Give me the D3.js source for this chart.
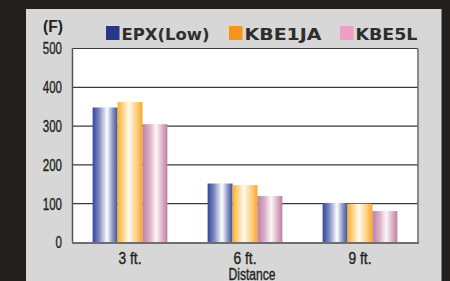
<!DOCTYPE html>
<html><head><meta charset="utf-8">
<script src="https://cdn.jsdelivr.net/npm/d3@7"></script>
<style>
html,body{margin:0;padding:0;background:#231f1c;}
svg{display:block;}
</style></head><body>
<svg id="c" width="450" height="281"></svg>
<script>
const categories = ["3 ft.", "6 ft.", "9 ft."];
const seriesNames = ["EPX(Low)", "KBE1JA", "KBE5L"];
const epx = [348, 152, 102];
const kbe1ja = [362, 148, 100];
const kbe5l = [305, 120, 81];
const yTicks = [0, 100, 200, 300, 400, 500];
const axisTitle = "(F)";
const xTitle = "Distance";

const seriesValues = [epx, kbe1ja, kbe5l];
const svg = d3.select("#c");
const W = 450, H = 281;
const M = {left: 72.5, right: 417.5, top: 48.5, bottom: 242.5};

svg.append("rect").attr("x",0).attr("y",0).attr("width",W).attr("height",H).attr("fill","#231f1c");
svg.append("rect").attr("x",26).attr("y",9).attr("width",415.5).attr("height",H-9).attr("fill","#d6d7d6");

const defs = svg.append("defs");
const grads = [
  {id:"gEpx", stops:[[0,"#34479a"],[0.25,"#7a86bd"],[0.58,"#ffffff"],[0.8,"#8e97c6"],[1,"#3f5099"]]},
  {id:"gKbe1", stops:[[0,"#fbb22a"],[0.2,"#fdd17e"],[0.45,"#fffaf0"],[0.75,"#fdd288"],[1,"#f7a823"]]},
  {id:"gKbe5", stops:[[0,"#c07ea2"],[0.3,"#dcb3c8"],[0.55,"#fdf6f9"],[0.8,"#dbb0c6"],[1,"#c07ea2"]]}
];
grads.forEach(g=>{
  const lg = defs.append("linearGradient").attr("id",g.id).attr("x1","0").attr("x2","1").attr("y1","0").attr("y2","0");
  g.stops.forEach(s=>lg.append("stop").attr("offset",s[0]).attr("stop-color",s[1]));
});
const legendColors = ["#26388a","#f7941d","#f19cc5"];

const x = d3.scaleBand().domain(categories).range([M.left, M.right]).paddingInner(0.35).paddingOuter(0.175);
const xs = d3.scaleBand().domain(d3.range(seriesNames.length)).range([0, x.bandwidth()]);
const y = d3.scaleLinear().domain([0, 500]).range([M.bottom, M.top]);

svg.append("rect").attr("x",M.left).attr("y",M.top).attr("width",M.right-M.left).attr("height",M.bottom-M.top).attr("fill","#ffffff");
svg.append("line").attr("x1",M.right+0.5).attr("x2",M.right+0.5).attr("y1",M.top).attr("y2",M.bottom+1).attr("stroke","#8a8a8a").attr("stroke-width",2);

svg.append("g").selectAll("line").data(yTicks.filter(d=>d>0 && d<500)).join("line")
  .attr("x1",M.left).attr("x2",M.right).attr("y1",d=>y(d)).attr("y2",d=>y(d))
  .attr("stroke","#3a3a3a").attr("stroke-width",1.2);

const grp = svg.append("g").selectAll("g").data(categories).join("g")
  .attr("transform",d=>`translate(${x(d)},0)`);
grp.selectAll("rect").data((c,i)=>seriesValues.map((s,j)=>({j, v:s[i]}))).join("rect")
  .attr("x",d=>xs(d.j)).attr("width",xs.bandwidth())
  .attr("y",d=>y(d.v)).attr("height",d=>y(0)-y(d.v))
  .attr("fill",d=>`url(#${grads[d.j].id})`);

svg.append("line").attr("x1",M.left).attr("x2",M.right).attr("y1",M.top).attr("y2",M.top).attr("stroke","#3a3a3a").attr("stroke-width",1);
svg.append("line").attr("x1",M.left).attr("x2",M.left).attr("y1",M.top).attr("y2",M.bottom).attr("stroke","#555").attr("stroke-width",1.5);
svg.append("line").attr("x1",M.left-0.5).attr("x2",M.right+1.5).attr("y1",M.bottom+0.5).attr("y2",M.bottom+0.5).attr("stroke","#6e6e6e").attr("stroke-width",2);

const condensed = "'Liberation Sans','Arimo',sans-serif";

const yAxis = d3.axisLeft(y).tickValues(yTicks).tickSize(0).tickPadding(10.5);
const ya = svg.append("g").attr("transform",`translate(${M.left},0)`).call(yAxis);
ya.select(".domain").remove();
ya.selectAll("text").attr("font-family",condensed).attr("font-size",16).attr("fill","#231f1c")
  .attr("stroke","#231f1c").attr("stroke-width",0.35)
  .attr("dy","0.34em")
  .attr("textLength",d=>String(d).length*6.4).attr("lengthAdjust","spacingAndGlyphs");

const xAxis = d3.axisBottom(x).tickSize(0).tickPadding(0);
const xa = svg.append("g").attr("transform",`translate(0,${M.bottom})`).call(xAxis);
xa.select(".domain").remove();
xa.selectAll("text").attr("font-family",condensed).attr("font-size",16).attr("fill","#231f1c")
  .attr("stroke","#231f1c").attr("stroke-width",0.35)
  .attr("dy",null).attr("y",21.5)
  .attr("textLength",23).attr("lengthAdjust","spacingAndGlyphs");

svg.append("text").attr("x",252).attr("y",280).attr("text-anchor","middle")
  .attr("font-family",condensed).attr("font-size",16).attr("fill","#231f1c")
  .attr("stroke","#231f1c").attr("stroke-width",0.35)
  .attr("textLength",47).attr("lengthAdjust","spacingAndGlyphs").text(xTitle);

svg.append("text").attr("x",53).attr("y",32).attr("text-anchor","middle")
  .attr("font-family",condensed).attr("font-weight","bold").attr("font-size",16).attr("fill","#231f1c")
  .attr("textLength",20).attr("lengthAdjust","spacingAndGlyphs").text(axisTitle);

const legendX = [106, 229, 340];
const lg = svg.append("g");
seriesNames.forEach((n,i)=>{
  lg.append("rect").attr("x",legendX[i]).attr("y",26).attr("width",13.5).attr("height",14).attr("fill",legendColors[i]);
  lg.append("text").attr("x",legendX[i]+15.5).attr("y",39.5)
    .attr("font-family","'DejaVu Sans',sans-serif").attr("font-weight","bold").attr("font-size",16.5)
    .attr("fill","#2e2e2e").attr("textLength", [88, 77, 62][i]).attr("lengthAdjust","spacingAndGlyphs").text(n);
});
</script>
</body></html>
